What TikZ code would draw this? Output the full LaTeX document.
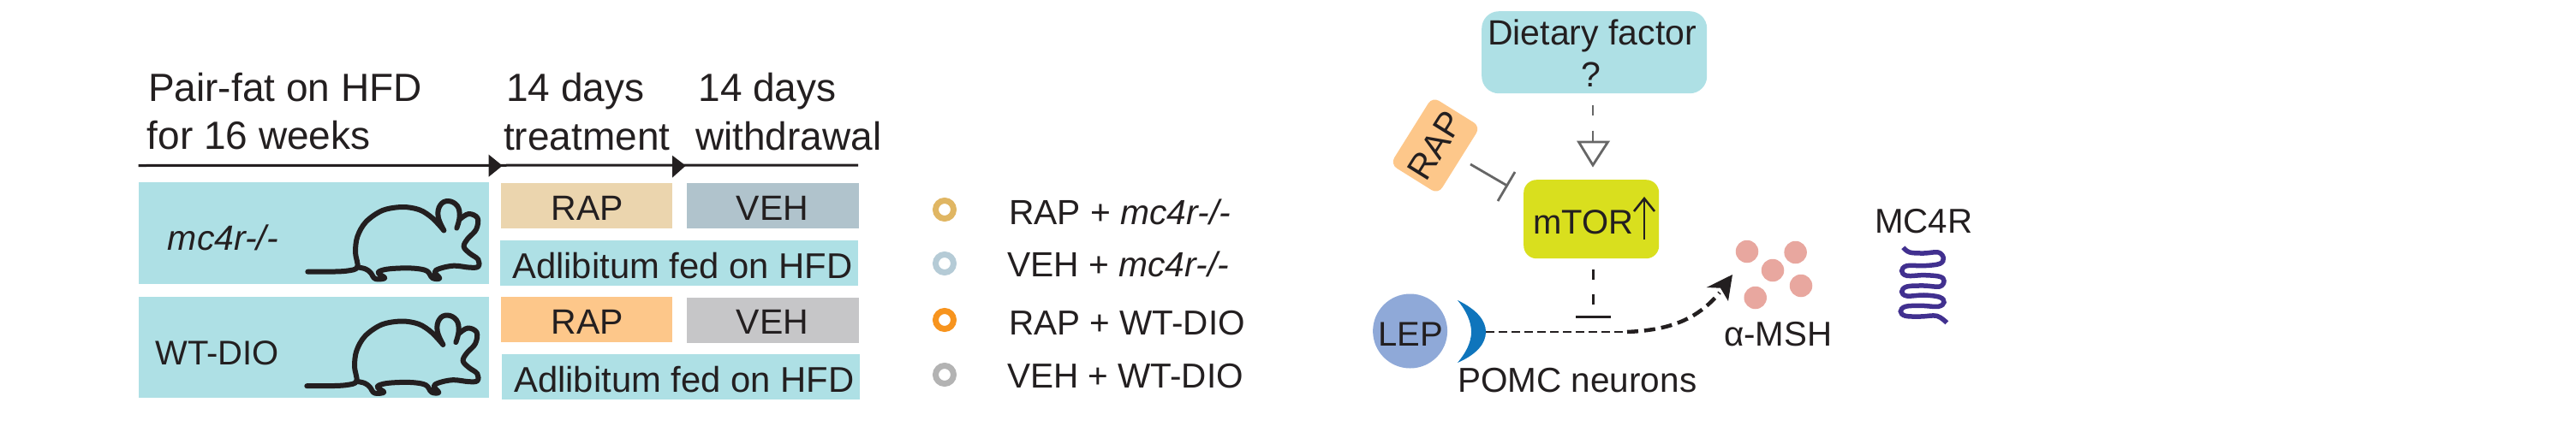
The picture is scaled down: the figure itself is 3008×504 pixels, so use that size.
\documentclass[tikz,border=0pt]{standalone}
\usepackage{fontspec}
\setmainfont{Liberation Sans}
\usetikzlibrary{arrows.meta,calc}
\definecolor{ink}{HTML}{231F20}
\definecolor{teal}{HTML}{AEE0E5}
\definecolor{tanbox}{HTML}{EBD5AE}
\definecolor{slatebox}{HTML}{B0C3CC}
\definecolor{orangebox}{HTML}{FDC78A}
\definecolor{greybox}{HTML}{C6C6C8}
\definecolor{lime}{HTML}{D9DF1E}
\definecolor{lepblue}{HTML}{8FA9D8}
\definecolor{crescent}{HTML}{0F75BC}
\definecolor{dotpink}{HTML}{E8A79F}
\definecolor{wave}{HTML}{41308F}
\definecolor{conn}{HTML}{666666}
\definecolor{ringa}{HTML}{E0B663}
\definecolor{ringb}{HTML}{B5CBD6}
\definecolor{ringc}{HTML}{F7941E}
\definecolor{ringd}{HTML}{B3B3B3}
\tikzset{
  lab/.style={text=ink,inner sep=0pt,anchor=base west,font=\fontsize{#1}{#1}\selectfont},
  lab/.default=41,
  labc/.style={text=ink,inner sep=0pt,anchor=base,font=\fontsize{#1}{#1}\selectfont},
  labc/.default=41,
  box/.style={inner sep=0pt,anchor=north west,draw=none},
  ring/.style={circle,draw=#1,line width=7pt,minimum size=21pt,inner sep=0pt},
  mouseline/.style={draw=ink,line width=6pt,line cap=round,line join=round},
  dot/.style={circle,fill=dotpink,inner sep=0pt,minimum size=26.5pt}
}
\newcommand{\mousefig}{%
  \draw[mouseline] plot[smooth,tension=0.55] coordinates {(58,293) (130,293) (195,290) (232,277) (225,225) (232,170) (262,118) (320,78) (390,66) (450,76) (495,105) (535,148)};
  \draw[mouseline] plot[smooth,tension=0.7] coordinates {(535,148) (515,100) (522,60) (550,45) (582,62) (590,100) (580,140)};
  \draw[mouseline] plot[smooth,tension=0.6] coordinates {(592,108) (622,90) (653,105) (648,145) (618,178) (605,205) (625,228) (655,250) (655,275) (625,278) (570,272) (520,282) (503,295) (520,316) (495,315) (475,290) (430,281) (370,281) (325,286) (305,297) (328,315) (295,318) (278,296) (260,283) (232,277)};
}
\begin{document}
\begin{tikzpicture}[x=1pt,y=-1pt]
\useasboundingbox (0,0) rectangle (3008,504);
% timeline
\coordinate (tlA) at (161.5,193.5);
\coordinate (tlB) at (1002,193);
\draw[line width=3pt,ink] (tlA) -- (tlB);
\fill[ink] (570.7,180.7) -- (586.7,193.7) -- (570.7,206.7) -- cycle;
\fill[ink] (785,181.7) -- (800.7,193.7) -- (785,207.7) -- cycle;
\node[lab=46] (t1) at (173,118) {Pair-fat on HFD};
\node[lab=46] (t2) at (171.5,174) {for 16 weeks};
\node[lab=46] (t3) at (591,118) {14 days};
\node[lab=46] (t4) at (588,175) {treatment};
\node[lab=46] (t5) at (815.3,118) {14 days};
\node[lab=46] (t6) at (812,175) {withdrawal};
% boxes
\node[box,fill=teal,minimum width=409.7pt,minimum height=119pt] (g1) at (161.3,213) {};
\node[box,fill=teal,minimum width=409.7pt,minimum height=118pt] (g2) at (161.3,347) {};
\node[box,fill=tanbox,minimum width=200.5pt,minimum height=53.5pt] (r1) at (584.5,213.3) {};
\node[box,fill=slatebox,minimum width=201pt,minimum height=53.5pt] (v1) at (801.3,213.3) {};
\node[box,fill=teal,minimum width=418.5pt,minimum height=53pt] (a1) at (583.7,281) {};
\node[box,fill=orangebox,minimum width=200.5pt,minimum height=53pt] (r2) at (584.5,347) {};
\node[box,fill=greybox,minimum width=201pt,minimum height=53pt] (v2) at (801.3,348) {};
\node[box,fill=teal,minimum width=418.5pt,minimum height=53pt] (a2) at (585.4,414) {};
\node[labc] (r1t) at (686,257) {RAP};
\node[labc] (v1t) at (902,257) {VEH};
\node[labc] (r2t) at (686,390) {RAP};
\node[labc] (v2t) at (902,390) {VEH};
\node[lab=41.8] (a1t) at (598,325) {Adlibitum fed on HFD};
\node[lab=41.8] (a2t) at (600,458) {Adlibitum fed on HFD};
\node[lab] (g1t) at (195.7,292) {\itshape mc4r-/-};
\node[lab=40] (g2t) at (181.4,426) {WT-DIO};
% mice
\begin{scope}[shift={(340,220)},x=0.3333pt,y=-0.3333pt]\mousefig\end{scope}
\begin{scope}[shift={(339,353.5)},x=0.3333pt,y=-0.3333pt]\mousefig\end{scope}
% legend
\node[ring=ringa] (l1) at (1103,245) {};
\node[ring=ringb] (l2) at (1103,308) {};
\node[ring=ringc] (l3) at (1103,374) {};
\node[ring=ringd] (l4) at (1103,438) {};
\node[lab=40.8] (l1t) at (1178,262) {RAP + \textit{mc4r-/-}};
\node[lab=40.8] (l2t) at (1176,323) {VEH + \textit{mc4r-/-}};
\node[lab=40.5] (l3t) at (1178,391) {RAP + WT-DIO};
\node[lab=40.5] (l4t) at (1176,453) {VEH + WT-DIO};
% pathway
\node[box,fill=teal,rounded corners=20pt,minimum width=263pt,minimum height=96pt] (diet) at (1730,13) {};
\node[labc] (d1) at (1859,52) {Dietary factor};
\node[labc] (d2) at (1858,101) {?};
\node[box,fill=lime,rounded corners=15pt,minimum width=158pt,minimum height=92pt] (mtor) at (1779,210) {};
\node[lab=40] (mt) at (1790,273) {mTOR};
\coordinate (upA) at (1920,280);
\coordinate (upB) at (1920,232);
\draw[line width=2.6pt,ink] (upA) -- (upB);
\draw[line width=2.6pt,ink] (1908,247) -- (upB) -- (1932,247);
\node[rotate=58,fill=orangebox,rounded corners=9pt,minimum width=93pt,minimum height=66pt,inner sep=0pt,text=ink,font=\fontsize{41}{41}\selectfont] (rap) at (1676,170) {RAP};
\coordinate (dA) at (1860,123);
\coordinate (dB) at (1860,166);
\draw[conn,line width=2.8pt,dash pattern=on 12pt off 17.5pt] (dA) -- (dB);
\draw[conn,line width=2.8pt,line join=miter] (1843.5,166) -- (1877.5,166) -- (1860,193) -- cycle;
\coordinate (iA) at (1717,192);
\coordinate (iB) at (1759,216.5);
\draw[conn,line width=2.8pt] (iA) -- (iB);
\draw[conn,line width=2.8pt] (1769,201) -- (1749,235);
\node[circle,fill=lepblue,inner sep=0pt,minimum size=87pt] (lep) at (1646.6,387) {};
\node[labc=40] (lept) at (1647,404) {LEP};
\fill[crescent] (1702,351) .. controls (1725,362) and (1735,375) .. (1735,388) .. controls (1735,401) and (1725,414) .. (1702,424) .. controls (1712,412) and (1718,400) .. (1718,388) .. controls (1718,376) and (1712,363) .. (1702,351) -- cycle;
\coordinate (cres) at (1735,388);
\coordinate (mid) at (1913,388);
\coordinate (cstart) at (1900,388);
\coordinate (tip) at (2008,342);
\draw[ink,line width=2.8pt,dash pattern=on 10pt off 5pt] (cres) -- (mid);
\draw[ink,line width=4.5pt,dash pattern=on 13pt off 7pt] (cstart) .. controls (1945,386) and (1980,376) .. (tip);
\fill[ink] (2023,321) -- (1992.7,336) -- (2009,336.7) -- (2018,352) -- cycle;
\coordinate (tA) at (1860.5,315);
\coordinate (tB) at (1860.5,368);
\draw[ink,line width=2.6pt,dash pattern=on 12pt off 17pt] (tA) -- (tB);
\draw[ink,line width=2.6pt] (1840,370.5) -- (1881,370.5);
\node[lab=40.5] (pomc) at (1702,458) {POMC neurons};
\node[dot] (p1) at (2040,294) {};
\node[dot] (p2) at (2096.6,295) {};
\node[dot] (p3) at (2070,316) {};
\node[dot] (p4) at (2103,334) {};
\node[dot] (p5) at (2049.7,348) {};
\node[lab=40.3] (msh) at (2013,404) {α-MSH};
\node[lab=40.3] (mc4r) at (2189,272) {MC4R};
\begin{scope}[shift={(2190,270)},x=0.3333pt,y=-0.3333pt]
\draw[wave,line width=5.5pt] plot[smooth,tension=0.6] coordinates {(97,58) (120,75) (170,78) (220,75) (238,95) (225,115) (170,122) (110,122) (92,140) (110,157) (170,155) (225,160) (240,175) (225,195) (170,192) (110,195) (92,213) (110,228) (170,225) (225,232) (240,250) (220,265) (160,262) (105,265) (88,282) (105,298) (160,300) (215,298) (250,322)};
\end{scope}
\end{tikzpicture}
\end{document}
